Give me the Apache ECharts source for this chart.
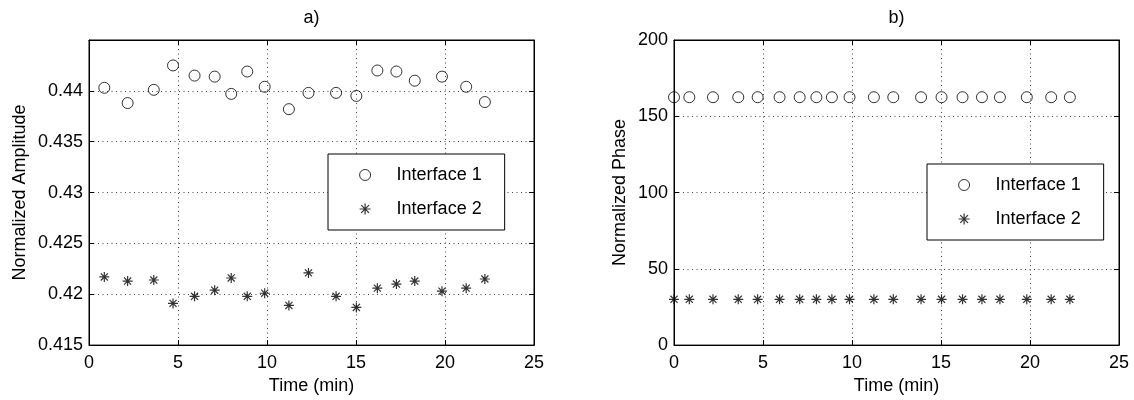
<!DOCTYPE html>
<html>
<head>
<meta charset="utf-8">
<script src="https://cdn.jsdelivr.net/npm/echarts@6/dist/echarts.min.js"></script>
<style>html,body{margin:0;padding:0;background:#fff}#c{width:1134px;height:400px}</style>
</head>
<body>
<div id="c"></div>
<script>
// ---- data ----
const timeA = [0.86, 2.17, 3.64, 4.72, 5.93, 7.06, 7.99, 8.89, 9.87, 11.23, 12.33, 13.88, 15.02, 16.2, 17.27, 18.3, 19.83, 21.19, 22.24];
const amp1 = [0.4403, 0.4388, 0.4401, 0.4425, 0.4415, 0.4414, 0.4397, 0.4419, 0.4404, 0.4382, 0.4398, 0.4398, 0.4395, 0.4420, 0.4419, 0.4410, 0.4414, 0.4404, 0.4389];
const amp2 = [0.4217, 0.4213, 0.4214, 0.4191, 0.4198, 0.4204, 0.4216, 0.4198, 0.4201, 0.4189, 0.4221, 0.4198, 0.4187, 0.4206, 0.4210, 0.4213, 0.4203, 0.4206, 0.4215];
const timeB = [0, 0.86, 2.19, 3.61, 4.7, 5.93, 7.06, 8.0, 8.87, 9.86, 11.23, 12.32, 13.88, 15.03, 16.21, 17.3, 18.31, 19.82, 21.19, 22.24];
const phase1 = [162.5, 162.5, 162.5, 162.5, 162.5, 162.5, 162.5, 162.5, 162.5, 162.5, 162.5, 162.5, 162.5, 162.5, 162.5, 162.5, 162.5, 162.5, 162.5, 162.5];
const phase2 = [30, 30, 30, 30, 30, 30, 30, 30, 30, 30, 30, 30, 30, 30, 30, 30, 30, 30, 30, 30];
const seriesNames = ['Interface 1', 'Interface 2'];
const titles = ['a)', 'b)'];
const yNames = ['Normalized Amplitude', 'Normalized Phase'];
const xName = 'Time (min)';

const FONT = 'Liberation Sans, Arial, Helvetica, sans-serif';
const FS = 18;
const STAR = 'path://M0,-5L0,5M-5,0L5,0M-3.54,-3.54L3.54,3.54M-3.54,3.54L3.54,-3.54';
const pairs = (xs, ys) => xs.map((x, i) => [x, ys[i]]);

const gridLine = {show: true, lineStyle: {color: '#444', type: [1, 3.5], width: 1}};
const axLine = {show: true, onZero: false, lineStyle: {color: '#000', width: 1}};
const tick = {show: true, inside: true, length: 5, lineStyle: {color: '#000'}};
const lbl = {color: '#000', fontFamily: FONT, fontSize: FS};

function xAxes(gi) {
  return [
    {type: 'value', gridIndex: gi, min: 0, max: 25, interval: 5, position: 'bottom',
     axisLine: axLine, axisTick: tick, splitLine: gridLine,
     axisLabel: Object.assign({margin: 9}, lbl),
     name: xName, nameLocation: 'middle', nameGap: 31,
     nameTextStyle: {color: '#000', fontFamily: FONT, fontSize: FS}},
    {type: 'value', gridIndex: gi, min: 0, max: 25, interval: 5, position: 'top',
     axisLine: axLine, axisTick: tick, splitLine: {show: false}, axisLabel: {show: false},
     name: titles[gi], nameLocation: 'middle', nameGap: 13,
     nameTextStyle: {color: '#000', fontFamily: FONT, fontSize: FS}}
  ];
}
function yAxes(gi, min, max, interval, fmt, gap) {
  return [
    {type: 'value', gridIndex: gi, min: min, max: max, interval: interval, position: 'left',
     axisLine: axLine, axisTick: tick, splitLine: gridLine,
     axisLabel: Object.assign({margin: 6, formatter: fmt}, lbl),
     name: yNames[gi], nameLocation: 'middle', nameGap: gap,
     nameTextStyle: {color: '#000', fontFamily: FONT, fontSize: FS}},
    {type: 'value', gridIndex: gi, min: min, max: max, interval: interval, position: 'right',
     axisLine: axLine, axisTick: tick, splitLine: {show: false}, axisLabel: {show: false}}
  ];
}
const ampFmt = v => (v > 0.4449 ? '' : String(parseFloat(v.toFixed(3))));
const phFmt = v => String(Math.round(v));

function legend(gi, left, top) {
  return {
    show: true, orient: 'vertical', left: left, top: top,
    data: [
      {name: seriesNames[0], icon: 'circle', itemStyle: {color: 'rgba(0,0,0,0)', borderColor: '#000', borderWidth: 1}},
      {name: seriesNames[1], icon: STAR, itemStyle: {color: '#000', borderColor: '#000', borderWidth: 1.2}}
    ],
    itemWidth: 53, itemHeight: 11, itemGap: 16,
    padding: [12, 23, 12, 31],
    borderColor: '#000', borderWidth: 1, backgroundColor: '#fff',
    textStyle: {color: '#000', fontFamily: FONT, fontSize: FS},
    selectedMode: false
  };
}
function circleSeries(xi, yi, data) {
  return {name: seriesNames[0], type: 'scatter', xAxisIndex: xi, yAxisIndex: yi, data: data,
    symbol: 'circle', symbolSize: 11, z: 5,
    itemStyle: {color: 'rgba(0,0,0,0)', borderColor: '#000', borderWidth: 1}};
}
function starSeries(xi, yi, data) {
  return {name: seriesNames[1], type: 'scatter', xAxisIndex: xi, yAxisIndex: yi, data: data,
    symbol: STAR, symbolSize: 10, z: 5,
    itemStyle: {color: '#000', borderColor: '#000', borderWidth: 1.2}};
}

const chart = echarts.init(document.getElementById('c'), null, {renderer: 'canvas'});
chart.setOption({
  animation: false,
  backgroundColor: '#fff',
  grid: [
    {left: 89, right: 600, top: 40, bottom: 50, show: true, borderColor: '#000', borderWidth: 1, backgroundColor: '#fff'},
    {left: 674, right: 15, top: 40, bottom: 50, show: true, borderColor: '#000', borderWidth: 1, backgroundColor: '#fff'}
  ],
  xAxis: xAxes(0).concat(xAxes(1)),
  yAxis: yAxes(0, 0.415, 0.445, 0.005, ampFmt, 60).concat(yAxes(1, 0, 200, 50, phFmt, 45)),
  legend: [legend(0, 328, 154), legend(1, 927, 164)],
  series: [
    circleSeries(0, 0, pairs(timeA, amp1)),
    starSeries(0, 0, pairs(timeA, amp2)),
    circleSeries(2, 2, pairs(timeB, phase1)),
    starSeries(2, 2, pairs(timeB, phase2))
  ]
});
</script>
</body>
</html>
